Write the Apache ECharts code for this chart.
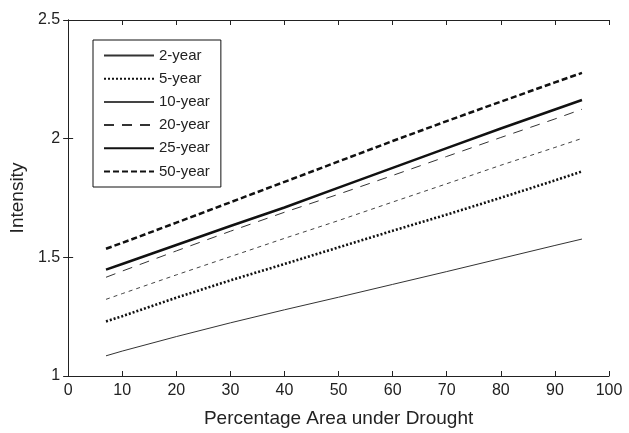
<!DOCTYPE html>
<html>
<head>
<meta charset="utf-8">
<script src="https://cdn.jsdelivr.net/npm/echarts@6/dist/echarts.min.js"></script>
<style>
  html, body { margin: 0; padding: 0; background: #fff; }
  #chart { width: 629px; height: 433px; }
</style>
</head>
<body>
<div id="chart"></div>
<script>
// Percentage area under drought (x) and drought intensity per return period
const areaPct = [7, 10, 20, 30, 40, 50, 60, 70, 80, 90, 95];
const year2  = [1.085, 1.105, 1.166, 1.224, 1.279, 1.332, 1.386, 1.440, 1.495, 1.550, 1.577];
const year5  = [1.230, 1.252, 1.330, 1.403, 1.472, 1.542, 1.612, 1.680, 1.751, 1.824, 1.862];
const year10 = [1.323, 1.347, 1.426, 1.503, 1.580, 1.655, 1.733, 1.810, 1.888, 1.963, 2.001];
const year20 = [1.416, 1.442, 1.527, 1.610, 1.690, 1.766, 1.845, 1.925, 2.005, 2.083, 2.124];
const year25 = [1.448, 1.472, 1.552, 1.632, 1.710, 1.794, 1.877, 1.960, 2.043, 2.123, 2.163];
const year50 = [1.536, 1.561, 1.646, 1.732, 1.818, 1.904, 1.990, 2.074, 2.156, 2.237, 2.277];
const seriesNames = ['2-year', '5-year', '10-year', '20-year', '25-year', '50-year'];
const xTicks = [0, 100, 10];   // min, max, step
const yTicks = [1, 2.5, 0.5];

const FONT = '"Liberation Sans", Arial, Helvetica, sans-serif';
const INK = '#222';

function pairs(ys) { return areaPct.map((x, i) => [x, ys[i]]); }

const styles = [
  { color: '#333', width: 1,   type: 'solid' },
  { color: '#111', width: 2.6, type: [2, 2] },
  { color: '#444', width: 1,   type: [4, 4] },
  { color: '#333', width: 1,   type: [10, 8] },
  { color: '#111', width: 2.5, type: 'solid' },
  { color: '#111', width: 2.5, type: [6, 3] }
];
const values = [year2, year5, year10, year20, year25, year50];

const series = seriesNames.map((name, i) => ({
  name: name,
  type: 'line',
  data: pairs(values[i]),
  symbol: 'none',
  smooth: false,
  color: styles[i].color,
  lineStyle: { color: styles[i].color, width: styles[i].width, type: styles[i].type },
  emphasis: { disabled: true },
  xAxisIndex: 0,
  yAxisIndex: 0,
  z: 3
}));

const axisLine = { show: true, lineStyle: { color: INK, width: 1 } };
const tickIn = { show: true, inside: true, length: 5, lineStyle: { color: INK, width: 1 } };

const chart = echarts.init(document.getElementById('chart'), null, { renderer: 'canvas' });
chart.setOption({
  animation: false,
  backgroundColor: '#fff',
  textStyle: { fontFamily: FONT },
  grid: { left: 67, top: 20, right: 20, bottom: 54, containLabel: false },
  legend: {
    orient: 'vertical',
    left: 93,
    top: 40,
    padding: [8, 11, 8, 10],
    itemWidth: 50,
    itemHeight: 14,
    itemGap: 8.2,
    borderColor: '#111',
    borderWidth: 1,
    backgroundColor: '#fff',
    selectedMode: false,
    itemStyle: { opacity: 0 },
    textStyle: { fontFamily: FONT, fontSize: 15, color: INK },
    data: seriesNames.map(n => n === '10-year'
      ? { name: n, lineStyle: { type: 'solid' } }
      : { name: n })
  },
  xAxis: [
    {
      type: 'value', min: xTicks[0], max: xTicks[1], interval: xTicks[2],
      position: 'bottom',
      axisLine: axisLine, axisTick: tickIn,
      splitLine: { show: false },
      axisLabel: { fontFamily: FONT, fontSize: 16, color: INK, margin: 7 },
      name: 'Percentage Area under Drought',
      nameLocation: 'middle', nameGap: 33,
      nameTextStyle: { fontFamily: FONT, fontSize: 19, color: INK }
    },
    {
      type: 'value', min: xTicks[0], max: xTicks[1], interval: xTicks[2],
      position: 'top',
      axisLine: axisLine, axisTick: tickIn,
      splitLine: { show: false }, axisLabel: { show: false }
    }
  ],
  yAxis: [
    {
      type: 'value', min: yTicks[0], max: yTicks[1], interval: yTicks[2],
      position: 'left',
      axisLine: axisLine, axisTick: tickIn,
      splitLine: { show: false },
      axisLabel: { fontFamily: FONT, fontSize: 16, color: INK, margin: 8 },
      name: 'Intensity',
      nameLocation: 'middle', nameGap: 37,
      nameTextStyle: { fontFamily: FONT, fontSize: 19, color: INK }
    },
    {
      type: 'value', min: yTicks[0], max: yTicks[1], interval: yTicks[2],
      position: 'right',
      axisLine: axisLine, axisTick: tickIn,
      splitLine: { show: false }, axisLabel: { show: false }
    }
  ],
  series: series
});
</script>
</body>
</html>
